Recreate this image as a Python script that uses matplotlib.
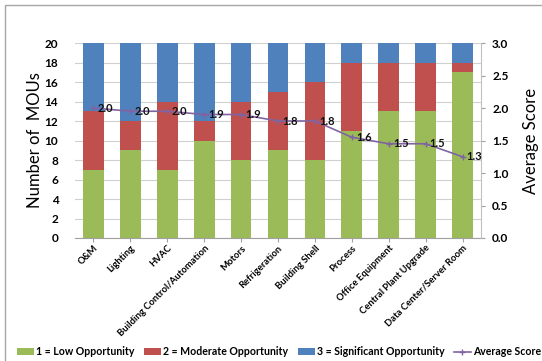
from decimal import Decimal, ROUND_HALF_UP

import matplotlib
matplotlib.use("Agg")
import matplotlib.pyplot as plt
import numpy as np
from matplotlib.patches import Rectangle

plt.rcParams['font.family'] = ['Lato', 'DejaVu Sans']

# measure categories and MOU counts per opportunity level
categories = ['O&M', 'Lighting', 'HVAC', 'Building Control/Automation', 'Motors',
              'Refrigeration', 'Building Shell', 'Process', 'Office Equipment',
              'Central Plant Upgrade', 'Data Center/Server Room']
low = [7, 9, 7, 10, 8, 9, 8, 11, 13, 13, 17]
moderate = [6, 3, 7, 2, 6, 6, 8, 7, 5, 5, 1]
significant = [7, 8, 6, 8, 6, 5, 4, 2, 2, 2, 2]
avg_score = [2.0, 1.95, 1.95, 1.9, 1.9, 1.8, 1.8, 1.55, 1.45, 1.45, 1.25]

green = '#9BBB59'
red = '#C0504D'
blue = '#4F81BD'
purple = '#8064A2'

fig = plt.figure(figsize=(5.42, 3.61), dpi=100)

# outer chart frame
fig.patches.append(Rectangle((5 / 542, -0.1), 1.2, 1.1 - 5 / 361,
                             transform=fig.transFigure, fill=False,
                             edgecolor='#a6a6a6', linewidth=1.0))

ax = fig.add_axes([75 / 542, 1 - 238 / 361, 406 / 542, 195 / 361])
x = np.arange(len(categories))
w = 0.56
b1 = ax.bar(x, low, w, color=green, label='1 = Low Opportunity', zorder=2)
b2 = ax.bar(x, moderate, w, bottom=low, color=red,
            label='2 = Moderate Opportunity', zorder=2)
b3 = ax.bar(x, significant, w, bottom=np.add(low, moderate), color=blue,
            label='3 = Significant Opportunity', zorder=2)

ax.set_xlim(-0.5, len(categories) - 0.5)
ax.set_ylim(0, 20)
ax.set_yticks(range(0, 21, 2))
ax.yaxis.grid(True, color='#d0d0d0', linewidth=0.8, zorder=0)
ax.set_axisbelow(True)
for s in ['top', 'right', 'left']:
    ax.spines[s].set_visible(False)
ax.spines['bottom'].set_color('#a0a0a0')
ax.tick_params(axis='y', length=0, labelsize=8.5, pad=12)
ax.tick_params(axis='x', length=3, color='#a0a0a0', labelsize=6.8, pad=1)
for t in ax.get_yticklabels():
    t.set_fontweight('bold')
ax.set_xticks(x)
ax.set_xticklabels(categories, rotation=45, ha='right', rotation_mode='anchor',
                   fontweight='bold')
ax.set_ylabel('Number of  MOUs', fontsize=12)
ax.yaxis.set_label_coords(-0.08, 0.5)

ax2 = ax.twinx()
ax2.set_ylim(0, 3)
ax2.set_yticks(np.arange(0, 3.01, 0.5))
ax2.yaxis.set_major_formatter(matplotlib.ticker.FormatStrFormatter('%.1f'))
for s in ['top', 'left', 'bottom']:
    ax2.spines[s].set_visible(False)
ax2.spines['right'].set_color('#c0c0c0')
ax2.tick_params(axis='y', length=3, color='#a0a0a0', labelsize=8.5, pad=5)
for t in ax2.get_yticklabels():
    t.set_fontweight('bold')
ax2.set_ylabel('Average Score', fontsize=12)
ax2.yaxis.set_label_coords(1.103, 0.5)

line, = ax2.plot(x, avg_score, color=purple, linewidth=1.2, marker='+',
                 markersize=4, label='Average Score', zorder=3)
for xi, v in zip(x, avg_score):
    lbl = str(Decimal(str(v)).quantize(Decimal('0.1'), rounding=ROUND_HALF_UP))
    ax2.annotate(lbl, (xi, v), xytext=(3, 0), textcoords='offset points',
                 ha='left', va='center', fontsize=8, fontweight='bold',
                 color='#111111', zorder=4)

fig.legend(handles=[b1, b2, b3, line], loc='center', ncol=4,
           bbox_to_anchor=(0.515, 0.026), frameon=False,
           prop={'size': 7.6, 'weight': 'bold'}, handlelength=1.6,
           handleheight=0.6, handletextpad=0.2, columnspacing=0.9,
           borderpad=0)

fig.savefig('out.png', dpi=100)
